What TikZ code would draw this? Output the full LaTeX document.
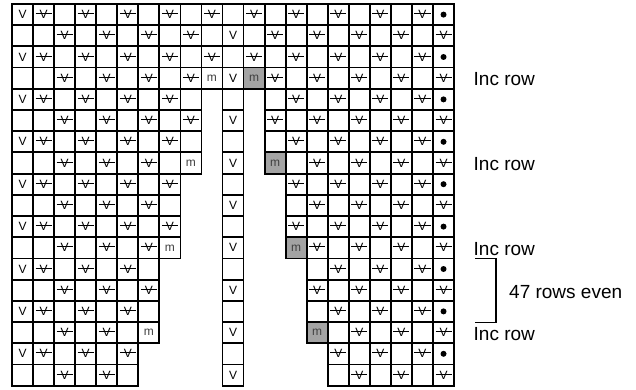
\documentclass[tikz,border=0pt]{standalone}
\usepackage{fontspec}
\setmainfont{Liberation Sans}
\begin{document}
\begin{tikzpicture}[x=1pt,y=-1pt,
  cell/.style={draw=black, line width=1.8pt, minimum width=21.05pt, minimum height=21.2pt,
    inner sep=0pt, outer sep=0pt, font=\fontsize{12}{12}\selectfont},
  celle/.style={cell, node contents={}},
  cellV/.style={cell, node contents={V}},
  cellS/.style={cell, node contents={V}, path picture={\draw[line width=0.7pt]
      ([xshift=2.5pt,yshift=1pt]path picture bounding box.west) --
      ([xshift=-2.5pt,yshift=1pt]path picture bounding box.east);}},
  cellD/.style={cell, node contents={}, path picture={\fill[black]
      (path picture bounding box.center) circle (3pt);}},
  cellm/.style={cell, text=black!75, node contents={m}},
  cellg/.style={cell, fill=black!36, text=black!75, node contents={m}},
  lbl/.style={font=\fontsize{19}{22}\selectfont, anchor=west, inner sep=0pt},
  bracket/.style={line width=1.3pt, black}
]
\useasboundingbox (0,0) rectangle (636,390);
\foreach \r/\row in {
 1/{V,S,e,S,e,S,e,S,e,S,e,S,e,S,e,S,e,S,e,S,D},
 2/{e,e,S,e,S,e,S,e,S,e,V,e,S,e,S,e,S,e,S,e,S},
 3/{V,S,e,S,e,S,e,S,e,S,e,S,e,S,e,S,e,S,e,S,D},
 4/{e,e,S,e,S,e,S,e,S,m,V,g,S,e,S,e,S,e,S,e,S},
 5/{V,S,e,S,e,S,e,S,e,x,e,x,e,S,e,S,e,S,e,S,D},
 6/{e,e,S,e,S,e,S,e,S,x,V,x,S,e,S,e,S,e,S,e,S},
 7/{V,S,e,S,e,S,e,S,e,x,e,x,e,S,e,S,e,S,e,S,D},
 8/{e,e,S,e,S,e,S,e,m,x,V,x,g,e,S,e,S,e,S,e,S},
 9/{V,S,e,S,e,S,e,S,x,x,e,x,x,S,e,S,e,S,e,S,D},
 10/{e,e,S,e,S,e,S,e,x,x,V,x,x,e,S,e,S,e,S,e,S},
 11/{V,S,e,S,e,S,e,S,x,x,e,x,x,S,e,S,e,S,e,S,D},
 12/{e,e,S,e,S,e,S,m,x,x,V,x,x,g,S,e,S,e,S,e,S},
 13/{V,S,e,S,e,S,e,x,x,x,e,x,x,x,e,S,e,S,e,S,D},
 14/{e,e,S,e,S,e,S,x,x,x,V,x,x,x,S,e,S,e,S,e,S},
 15/{V,S,e,S,e,S,e,x,x,x,e,x,x,x,e,S,e,S,e,S,D},
 16/{e,e,S,e,S,e,m,x,x,x,V,x,x,x,g,e,S,e,S,e,S},
 17/{V,S,e,S,e,S,x,x,x,x,e,x,x,x,x,S,e,S,e,S,D},
 18/{e,e,S,e,S,e,x,x,x,x,V,x,x,x,x,e,S,e,S,e,S}}{
  \foreach \t [count=\c] in \row {
    \if\t x\else
      \node (r\r-\c) at ({12+(\c-0.5)*21.05},{4+(\r-0.5)*21.2}) [cell\t];
    \fi
  }
}
\node[lbl] (inc1) at (473.5,79.5) {Inc row};
\node[lbl] (inc2) at (473.5,164) {Inc row};
\node[lbl] (inc3) at (473.5,249) {Inc row};
\node[lbl] (inc4) at (473.5,334.5) {Inc row};
\node[lbl] (even) at (509,292) {47 rows even};
\coordinate (b1) at (475,258.8);
\coordinate (b2) at (496,258.8);
\coordinate (b3) at (496,322.5);
\coordinate (b4) at (475,322.5);
\draw[bracket] (b1) -- (b2) -- (b3) -- (b4);
\end{tikzpicture}
\end{document}
